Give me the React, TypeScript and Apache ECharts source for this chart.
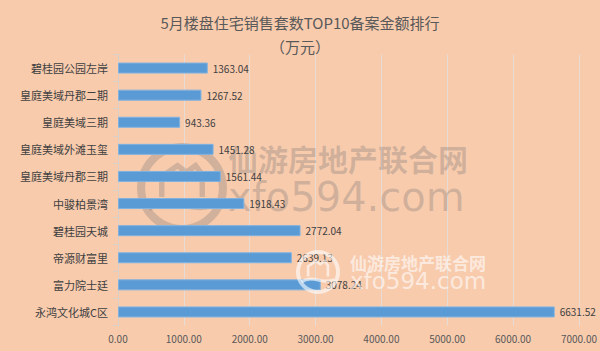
import React, { useEffect, useRef } from "react";
import * as echarts from "echarts";

const categories = [
  "碧桂园公园左岸",
  "皇庭美域丹郡二期",
  "皇庭美域三期",
  "皇庭美域外滩玉玺",
  "皇庭美域丹郡三期",
  "中骏柏景湾",
  "碧桂园天城",
  "帝源财富里",
  "富力院士廷",
  "永鸿文化城C区",
];
const values = [1363.04, 1267.52, 943.36, 1451.28, 1561.44, 1918.43, 2772.04, 2639.13, 3078.24, 6631.52];
const titleLines = ["5月楼盘住宅销售套数TOP10备案金额排行", "（万元）"];

const FONT = "'Noto Sans CJK SC', 'Noto Sans', sans-serif";

function watermark(cx: number, cy: number, r: number, color: string, txtX: number, cnY: number, cnSize: number, enY: number, enSize: number, z: number) {
  return [
    {
      type: "ring",
      shape: { cx, cy, r, r0: r * 0.82 },
      style: { fill: color },
      z,
    },
    {
      type: "polyline",
      shape: {
        points: [
          [cx - r * 0.45, cy + r * 0.2],
          [cx - r * 0.45, cy - r * 0.25],
          [cx - r * 0.1, cy - r * 0.5],
          [cx + r * 0.1, cy - r * 0.35],
          [cx + r * 0.3, cy - r * 0.5],
          [cx + r * 0.45, cy - r * 0.3],
          [cx + r * 0.45, cy + r * 0.2],
        ],
      },
      style: { stroke: color, lineWidth: Math.max(2, r * 0.12), fill: "none" },
      z,
    },
    {
      type: "bezierCurve",
      shape: {
        x1: cx - r * 0.75, y1: cy + r * 0.45,
        cpx1: cx - r * 0.2, cpy1: cy + r * 0.1,
        cpx2: cx + r * 0.2, cpy2: cy + r * 0.6,
        x2: cx + r * 0.75, y2: cy + r * 0.35,
      },
      style: { stroke: color, lineWidth: Math.max(2, r * 0.14), fill: "none" },
      z,
    },
    {
      type: "text",
      x: txtX,
      y: cnY,
      style: {
        text: "仙游房地产联合网",
        fill: color,
        font: `bold ${cnSize}px ${FONT}`,
        textVerticalAlign: "middle",
      },
      z,
    },
    {
      type: "text",
      x: txtX,
      y: enY,
      style: {
        text: "xfo594.com",
        fill: color,
        font: `${enSize}px 'DejaVu Sans', sans-serif`,
        textVerticalAlign: "middle",
      },
      z,
    },
  ];
}

export default function App() {
  const ref = useRef<HTMLDivElement>(null);
  useEffect(() => {
    if (!ref.current) return;
    const chart = echarts.init(ref.current, null, { renderer: "svg" });
    chart.setOption({
      animation: false,
      backgroundColor: "#F8CBAD",
      title: {
        text: titleLines.join("\n"),
        left: "center",
        top: 5,
        textStyle: {
          fontFamily: FONT,
          fontSize: 15,
          fontWeight: "normal",
          color: "#595959",
          lineHeight: 24,
        },
      },
      grid: { left: 118, right: 21, top: 54.5, bottom: 25.5, containLabel: false },
      xAxis: {
        type: "value",
        min: 0,
        max: 7000,
        interval: 1000,
        axisLine: { show: false },
        axisTick: { show: false },
        splitLine: { show: true, lineStyle: { color: "#E6DCD5", width: 1 } },
        axisLabel: {
          formatter: (v: number) => v.toFixed(2),
          color: "#595959",
          fontFamily: FONT,
          fontSize: 10,
          margin: 8,
        },
      },
      yAxis: {
        type: "category",
        data: categories,
        inverse: true,
        axisLine: { show: true, lineStyle: { color: "#D9D0CA" } },
        axisTick: { show: true, length: 5, lineStyle: { color: "#D9D0CA" } },
        axisLabel: { color: "#404040", fontFamily: FONT, fontSize: 11, margin: 10 },
      },
      series: [
        {
          type: "bar",
          data: values,
          barWidth: 11,
          z: 3,
          itemStyle: { color: "#5B9BD5", borderColor: "#7FB2E0", borderWidth: 1 },
          label: {
            show: true,
            position: "right",
            distance: 5,
            color: "#404040",
            fontFamily: FONT,
            fontSize: 10,
            formatter: (p: any) => Number(p.value).toFixed(2),
          },
        },
      ],
      graphic: [
        ...watermark(182, 188, 45, "rgba(110,110,110,0.28)", 228, 158, 30, 197, 40, 1),
        ...watermark(318, 272, 22, "rgba(255,255,255,0.6)", 350, 262, 17, 281, 23, 10),
      ],
    });
    return () => chart.dispose();
  }, []);
  return <div ref={ref} style={{ position: "fixed", left: 0, top: 0, width: 600, height: 351 }} />;
}
